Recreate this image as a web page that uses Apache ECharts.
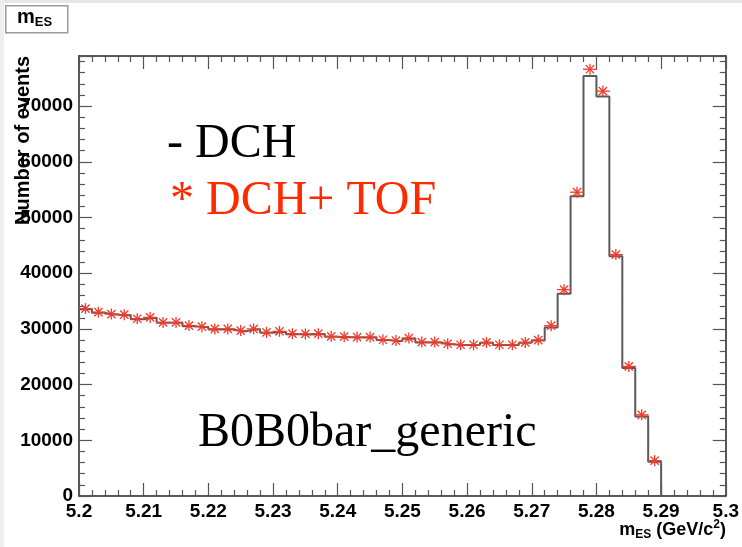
<!DOCTYPE html>
<html>
<head>
<meta charset="utf-8">
<script src="https://cdn.jsdelivr.net/npm/echarts@6/dist/echarts.min.js"></script>
<style>
  html, body { margin: 0; padding: 0; background: #fff; }
  #chart { width: 742px; height: 547px; }
</style>
</head>
<body>
<div id="chart"></div>
<script>
// histogram bins (m_ES bin centres, GeV/c^2), bin width 0.002
var binCenters = [5.201, 5.203, 5.205, 5.207, 5.209, 5.211, 5.213, 5.215, 5.217, 5.219,
  5.221, 5.223, 5.225, 5.227, 5.229, 5.231, 5.233, 5.235, 5.237, 5.239,
  5.241, 5.243, 5.245, 5.247, 5.249, 5.251, 5.253, 5.255, 5.257, 5.259,
  5.261, 5.263, 5.265, 5.267, 5.269, 5.271, 5.273, 5.275, 5.277, 5.279,
  5.281, 5.283, 5.285, 5.287, 5.289]
var histLow = 5.2
var histHigh = 5.29

// DCH only (line)
var dchCounts = [33550, 32900, 32600, 32450, 31750, 31950, 31100, 31100, 30500, 30350,
  29900, 29900, 29600, 29900, 29300, 29450, 29050, 29000, 29050, 28600,
  28500, 28450, 28450, 28000, 27850, 28250, 27550, 27550, 27250, 27100,
  27100, 27500, 27100, 27100, 27500, 27900, 30270, 36330, 53830, 75410,
  71710, 43040, 22960, 14260, 6170]

// DCH + TOF (stars)
var tofCounts = [33650, 33000, 32670, 32550, 31830, 32070, 31170, 31170, 30600, 30400,
  30000, 30000, 29700, 30000, 29380, 29560, 29140, 29100, 29140, 28660,
  28600, 28540, 28540, 28060, 27900, 28360, 27640, 27640, 27340, 27160,
  27160, 27580, 27160, 27160, 27580, 28000, 30580, 37050, 54550, 76620,
  72700, 43350, 23260, 14570, 6350]

var xMin = 5.2, xMax = 5.3, xStep = 0.01
var yMin = 0, yMax = 79000, yStep = 10000

var chart = echarts.init(document.getElementById('chart'))

// step outline of the DCH histogram
var lineData = [[histLow, dchCounts[0]]]
binCenters.forEach(function (c, i) { lineData.push([c, dchCounts[i]]) })
lineData.push([histHigh, dchCounts[dchCounts.length - 1]])
lineData.push([histHigh, 0])

var tofData = binCenters.map(function (c, i) { return [c, tofCounts[i]] })

var frameColor = '#222'
var labelFont = { color: '#000', fontFamily: 'Liberation Sans, Arial, sans-serif', fontWeight: 'bold', fontSize: 19 }

function frameAxis (pos, showLabel, isX) {
  return {
    type: 'value',
    position: pos,
    min: isX ? xMin : yMin,
    max: isX ? xMax : yMax,
    interval: isX ? xStep : yStep,
    splitLine: { show: false },
    axisLine: { show: true, onZero: false, lineStyle: { color: frameColor, width: 1.5 } },
    axisTick: { show: true, inside: true, length: 13, lineStyle: { color: '#555', width: 1.2 } },
    minorTick: { show: true, splitNumber: 5, length: 6, lineStyle: { color: '#555', width: 1.2 } },
    axisLabel: Object.assign({
      show: showLabel,
      margin: 6,
      formatter: isX
        ? function (v) { return String(+v.toFixed(3)) }
        : function (v) { return v % 10000 === 0 ? String(v) : '' }
    }, labelFont)
  }
}

var option = {
  backgroundColor: '#fff',
  animation: false,
  grid: { left: 79, right: 14, top: 56, bottom: 51, containLabel: false },
  xAxis: [frameAxis('bottom', true, true), frameAxis('top', false, true)],
  yAxis: [frameAxis('left', true, false), frameAxis('right', false, false)],
  series: [
    {
      name: 'DCH',
      type: 'line',
      step: 'middle',
      xAxisIndex: 0,
      yAxisIndex: 0,
      symbol: 'none',
      data: lineData,
      lineStyle: { color: '#5a5a5a', width: 2 },
      z: 3
    },
    {
      name: 'DCH+ TOF',
      type: 'custom',
      xAxisIndex: 0,
      yAxisIndex: 0,
      data: tofData,
      z: 4,
      renderItem: function (params, api) {
        var p = api.coord([api.value(0), api.value(1)])
        var r = 5.5
        var d = r * 0.75
        var st = { stroke: '#f23a2a', lineWidth: 1.3 }
        return {
          type: 'group',
          children: [
            { type: 'line', shape: { x1: p[0] - r - 1.5, y1: p[1], x2: p[0] + r + 1.5, y2: p[1] }, style: st },
            { type: 'line', shape: { x1: p[0], y1: p[1] - r, x2: p[0], y2: p[1] + r }, style: st },
            { type: 'line', shape: { x1: p[0] - d, y1: p[1] - d, x2: p[0] + d, y2: p[1] + d }, style: st },
            { type: 'line', shape: { x1: p[0] - d, y1: p[1] + d, x2: p[0] + d, y2: p[1] - d }, style: st }
          ]
        }
      }
    }
  ],
  graphic: [
    { type: 'rect', left: 0, top: 0, shape: { width: 742, height: 3 }, style: { fill: '#e6e6e6' }, z: 0 },
    { type: 'rect', left: 0, top: 0, shape: { width: 4, height: 547 }, style: { fill: '#eeeeee' }, z: 0 },
    {
      type: 'rect', left: 5, top: 5,
      shape: { width: 62, height: 27 },
      style: { fill: '#fff', stroke: '#9a9a9a', lineWidth: 1.5 }, z: 10
    },
    {
      type: 'text', left: 17, top: 7, z: 11,
      style: {
        text: '{m|m}{s|ES}',
        rich: {
          m: { fontFamily: 'Liberation Sans, Arial', fontWeight: 'bold', fontSize: 20, fill: '#000' },
          s: { fontFamily: 'Liberation Sans, Arial', fontWeight: 'bold', fontSize: 13, fill: '#000', padding: [10, 0, 0, 0] }
        }
      }
    },
    {
      type: 'text', z: 11,
      x: 23, y: 56, rotation: Math.PI / 2,
      style: {
        text: 'Number of events',
        font: 'bold 20px "Liberation Sans", Arial, sans-serif',
        fill: '#000',
        textAlign: 'right',
        textVerticalAlign: 'middle'
      }
    },
    {
      type: 'text', z: 11, right: 16, top: 519,
      style: {
        text: '{m|m}{s|ES}{m| (GeV/c}{p|2}{m|)}',
        rich: {
          m: { fontFamily: 'Liberation Sans, Arial', fontWeight: 'bold', fontSize: 18, fill: '#000' },
          s: { fontFamily: 'Liberation Sans, Arial', fontWeight: 'bold', fontSize: 12, fill: '#000', padding: [10, 0, 0, 0] },
          p: { fontFamily: 'Liberation Sans, Arial', fontWeight: 'bold', fontSize: 12, fill: '#000', padding: [0, 0, 10, 0] }
        }
      }
    },
    {
      type: 'text', z: 11, left: 167, top: 120,
      style: { text: '- DCH', font: '48px "Liberation Serif", "Times New Roman", serif', fill: '#000' }
    },
    {
      type: 'text', z: 11, left: 170, top: 177,
      style: { text: '* DCH+ TOF', font: '48px "Liberation Serif", "Times New Roman", serif', fill: '#ff2a00' }
    },
    {
      type: 'text', z: 11, left: 198, top: 409,
      style: { text: 'B0B0bar_generic', font: '48px "Liberation Serif", "Times New Roman", serif', fill: '#000' }
    }
  ]
}

chart.setOption(option)
</script>
</body>
</html>
